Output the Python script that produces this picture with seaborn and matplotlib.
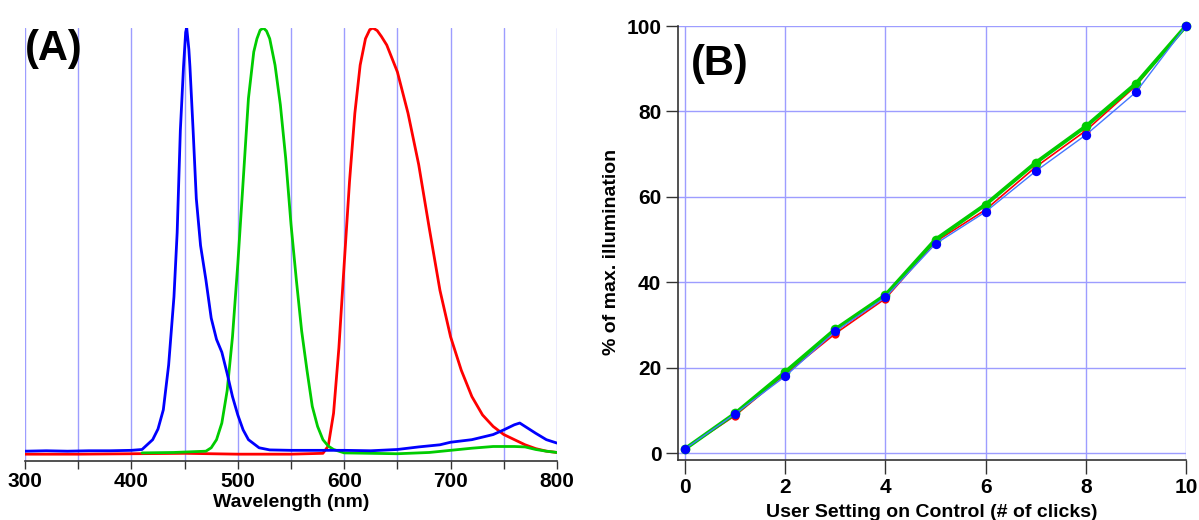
import numpy as np
import pandas as pd
import matplotlib
matplotlib.use("Agg")
import matplotlib.pyplot as plt
import seaborn as sns
from matplotlib.ticker import MultipleLocator

sns.set_theme(style="white")
plt.rcParams['font.family'] = ['Liberation Sans', 'DejaVu Sans']
plt.rcParams['font.weight'] = 'bold'
for k in ['text.color', 'axes.labelcolor', 'xtick.color', 'ytick.color']:
    plt.rcParams[k] = 'black'

# ---------------- Panel A: normalized emission spectra ----------------
blue_wl = [300, 320, 340, 360, 380, 400, 410, 420, 425, 430, 435, 440, 443, 446, 449, 451, 452,
           454, 455, 458, 461, 465, 470, 475, 480, 485, 490, 495, 500, 505, 510, 520, 530, 550,
           575, 600, 625, 650, 670, 690, 700, 720, 740, 750, 760, 765, 770, 780, 790, 800]
blue_val = [0.008, 0.009, 0.008, 0.009, 0.009, 0.010, 0.012, 0.035, 0.06, 0.105, 0.21, 0.37, 0.52,
            0.76, 0.91, 0.99, 1.0, 0.95, 0.91, 0.76, 0.60, 0.49, 0.41, 0.32, 0.27, 0.24, 0.19,
            0.136, 0.093, 0.058, 0.035, 0.016, 0.011, 0.010, 0.010, 0.010, 0.009, 0.012, 0.018,
            0.023, 0.029, 0.035, 0.047, 0.058, 0.070, 0.074, 0.066, 0.050, 0.035, 0.027]

green_wl = [410, 440, 470, 475, 480, 485, 490, 495, 500, 505, 510, 515, 518, 521, 524, 527, 530,
            535, 540, 545, 550, 555, 560, 565, 570, 575, 580, 585, 590, 600, 650, 680, 700, 720,
            740, 760, 770, 780, 790, 800]
green_val = [0.004, 0.005, 0.008, 0.016, 0.035, 0.074, 0.15, 0.276, 0.447, 0.64, 0.835, 0.944,
             0.975, 0.995, 1.0, 0.993, 0.975, 0.913, 0.82, 0.695, 0.54, 0.41, 0.29, 0.198, 0.113,
             0.066, 0.035, 0.02, 0.012, 0.004, 0.002, 0.005, 0.010, 0.015, 0.019, 0.019, 0.018,
             0.012, 0.008, 0.005]

red_wl = [300, 350, 400, 450, 500, 550, 580, 585, 590, 595, 600, 605, 610, 615, 620, 624, 627,
          631, 635, 640, 650, 660, 670, 680, 690, 700, 710, 720, 730, 740, 750, 760, 770, 780,
          790, 800]
red_val = [0.001, 0.001, 0.002, 0.003, 0.001, 0.001, 0.003, 0.02, 0.097, 0.25, 0.447, 0.64, 0.80,
           0.913, 0.975, 0.996, 1.0, 0.994, 0.98, 0.96, 0.897, 0.80, 0.68, 0.53, 0.385, 0.276,
           0.198, 0.136, 0.093, 0.066, 0.047, 0.035, 0.023, 0.014, 0.008, 0.005]

# ---------------- Panel B: illumination vs clicks ----------------
clicks = [0, 1, 2, 3, 4, 5, 6, 7, 8, 9, 10]
red_pct = [1.0, 8.8, 18.5, 28.0, 36.2, 49.5, 57.0, 67.0, 75.5, 86.0, 100.0]
green_pct = [1.0, 9.3, 19.0, 29.0, 37.0, 50.0, 58.2, 68.0, 76.5, 86.5, 100.0]
blue_pct = [1.0, 9.2, 18.0, 28.5, 36.5, 49.0, 56.5, 66.0, 74.5, 84.5, 100.0]

BLUE = "#0000ff"
GREEN = "#00cc00"
RED = "#ff0000"
GRID = "#9d9dff"

W, H = 1199, 520
fig = plt.figure(figsize=(W / 100, H / 100), dpi=100)

# Panel A axes
axA = fig.add_axes([25 / W, 1 - 461 / H, (557 - 25) / W, (461 - 28) / H])
axA.set_xlim(300, 800)
axA.set_ylim(-0.015, 1.0)
for xg in range(300, 801, 50):
    axA.axvline(xg, color=GRID, lw=1.0, zorder=0)
sns.lineplot(x=red_wl, y=red_val, ax=axA, color=RED, lw=2.0, zorder=3)
sns.lineplot(x=green_wl, y=green_val, ax=axA, color=GREEN, lw=2.0, zorder=4)
sns.lineplot(x=blue_wl, y=blue_val, ax=axA, color=BLUE, lw=2.0, zorder=5)
for s in ['left', 'right', 'top']:
    axA.spines[s].set_visible(False)
axA.spines['bottom'].set_color('#333333')
axA.spines['bottom'].set_linewidth(1.2)
axA.set_yticks([])
axA.xaxis.set_major_locator(MultipleLocator(100))
axA.xaxis.set_minor_locator(MultipleLocator(50))
axA.tick_params(axis='x', which='both', direction='out', length=6, width=1, color='#333333',
                bottom=True, labelsize=15, pad=2)
for lab in axA.get_xticklabels():
    lab.set_fontweight('bold')
axA.set_xlabel("Wavelength (nm)", fontsize=14, fontweight='bold', labelpad=2)
axA.set_ylabel("")
axA.text(0.0, 0.997, "(A)", transform=axA.transAxes, fontsize=30, fontweight='bold',
         ha='left', va='top')

# Panel B axes
axB = fig.add_axes([678 / W, 1 - 460 / H, (1186 - 678) / W, (460 - 26) / H])
axB.set_xlim(-0.14, 10)
axB.set_ylim(-1.6, 100)
for xg in range(0, 11, 2):
    axB.axvline(xg, color=GRID, lw=1.0, zorder=0)
for yg in range(0, 101, 20):
    axB.axhline(yg, color=GRID, lw=1.0, zorder=0)
dfR = pd.DataFrame({"x": clicks, "y": red_pct})
dfG = pd.DataFrame({"x": clicks, "y": green_pct})
dfB = pd.DataFrame({"x": clicks, "y": blue_pct})
sns.lineplot(data=dfR, x="x", y="y", ax=axB, color=RED, lw=1.2, marker='o', markersize=6,
             markeredgewidth=0, zorder=3, clip_on=False)
sns.lineplot(data=dfG, x="x", y="y", ax=axB, color=GREEN, lw=2.8, marker='o', markersize=7,
             markeredgewidth=0, zorder=4, clip_on=False)
sns.lineplot(data=dfB, x="x", y="y", ax=axB, color="#4477ff", lw=1.0, zorder=5, clip_on=False)
sns.scatterplot(data=dfB, x="x", y="y", ax=axB, color=BLUE, s=45, linewidth=0, zorder=6,
                clip_on=False)
for s in ['right', 'top']:
    axB.spines[s].set_visible(False)
for s in ['left', 'bottom']:
    axB.spines[s].set_color('#333333')
    axB.spines[s].set_linewidth(1.2)
axB.xaxis.set_major_locator(MultipleLocator(2))
axB.yaxis.set_major_locator(MultipleLocator(20))
axB.tick_params(axis='x', which='both', direction='out', length=10, width=1, color='#333333',
                bottom=True, labelsize=15, pad=3)
axB.tick_params(axis='y', which='both', direction='out', length=9, width=1, color='#333333',
                left=True, labelsize=15, pad=3)
for lab in axB.get_xticklabels() + axB.get_yticklabels():
    lab.set_fontweight('bold')
axB.set_xlabel("User Setting on Control (# of clicks)", fontsize=14, fontweight='bold',
               labelpad=5)
axB.set_ylabel("% of max. illumination", fontsize=14, fontweight='bold', labelpad=10)
axB.yaxis.set_label_coords(-0.115, 0.48)
axB.text(0.025, 0.958, "(B)", transform=axB.transAxes, fontsize=30, fontweight='bold',
         ha='left', va='top')

fig.savefig("out.png", dpi=100)
